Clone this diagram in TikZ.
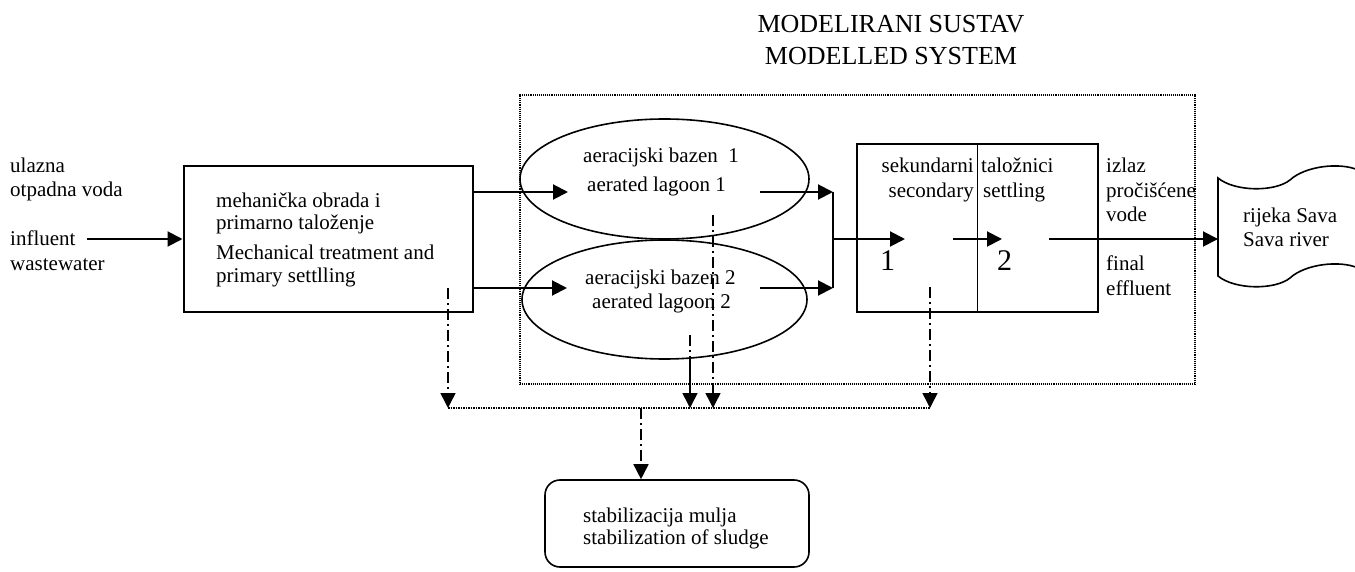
\documentclass[tikz,border=0pt]{standalone}
\usepackage{fontspec}
\setmainfont{Liberation Serif}
\usetikzlibrary{shapes.geometric,arrows.meta}
\begin{document}
\begin{tikzpicture}[x=1pt,y=-1pt,
  txt/.style={font=\fontsize{21}{24}\selectfont, inner sep=0pt, anchor=base west},
  txte/.style={txt, anchor=base east},
  ttl/.style={font=\fontsize{26}{30}\selectfont, inner sep=0pt, anchor=base},
  num/.style={font=\fontsize{30}{34}\selectfont, inner sep=0pt, anchor=base west},
  box/.style={draw, line width=2pt, inner sep=0pt},
  lagoon/.style={draw, ellipse, line width=1.6pt, inner sep=0pt},
  frame/.style={draw, densely dotted, line width=1.1pt, inner sep=0pt},
  ln/.style={line width=2pt},
  tip/.style={-{Triangle[length=15pt,width=15pt]}},
  arr/.style={ln, tip},
  dd/.style={line width=1.5pt, dash pattern=on 11pt off 4pt on 2pt off 4pt},
  ddarr/.style={dd, tip},
  collect/.style={densely dotted, line width=1.5pt}]
\useasboundingbox (0,0) rectangle (1355,572);
\clip (0,0) rectangle (1355,572);

% title
\node[ttl] (t1) at (891,33) {MODELIRANI SUSTAV};
\node[ttl] (t2) at (891,65) {MODELLED SYSTEM};

% modelled system frame
\node[frame, minimum width=675pt, minimum height=289pt] (frm) at (857.5,239.5) {};

% input labels
\node[txt] (in1) at (10,173) {ulazna};
\node[txt] (in2) at (10,197) {otpadna voda};
\node[txt] (in3) at (10,246) {influent};
\node[txt] (in4) at (10,270) {wastewater};

% mechanical treatment box
\node[box, minimum width=289pt, minimum height=145pt] (mech) at (328,239) {};
\node[txt] (m1) at (216,208) {mehanička obrada i};
\node[txt] (m2) at (216,230) {primarno taloženje};
\node[txt] (m3) at (216,259) {Mechanical treatment and};
\node[txt] (m4) at (216,282) {primary settlling};

% lagoons
\node[lagoon, minimum width=289pt, minimum height=120pt] (ell1) at (664.5,179) {};
\node[lagoon, minimum width=285pt, minimum height=119pt] (ell2) at (664.5,299.5) {};
\node[txt] (e1a) at (583,163) {aeracijski bazen \ 1};
\node[txt] (e1b) at (587,192) {aerated lagoon 1};
\node[txt] (e2a) at (585,284) {aeracijski bazen 2};
\node[txt] (e2b) at (592,308) {aerated lagoon 2};

% secondary settling
\node[box, line width=1.8pt, minimum width=241pt, minimum height=168pt] (sec) at (977.5,228) {};
\draw[line width=1.6pt] (sec.north) -- (sec.south);
\node[txte] (s1) at (974,173) {sekundarni};
\node[txte] (s2) at (974,198) {secondary};
\node[txt] (s3) at (981,173) {taložnici};
\node[txt] (s4) at (983,198) {settling};
\node[num] (n1) at (880,270) {1};
\node[num] (n2) at (997,270) {2};

% effluent labels
\node[txt] (o1) at (1106,173) {izlaz};
\node[txt] (o2) at (1106,198) {pročišćene};
\node[txt] (o3) at (1106,222) {vode};
\node[txt] (o4) at (1106,270) {final};
\node[txt] (o5) at (1106,295) {effluent};

% river
\draw[line width=1.6pt] (1358,170) .. controls (1340,162) and (1305,166) .. (1290,180)
   .. controls (1275,192) and (1235,192) .. (1218,178) -- (1218,276)
   .. controls (1235,290) and (1275,290) .. (1290,278)
   .. controls (1305,264) and (1340,260) .. (1358,268);
\coordinate (rv) at (1218,239);
\node[txt] (r1) at (1243,223) {rijeka Sava};
\node[txt] (r2) at (1243,247) {Sava river};

% sludge stabilization
\node[box, line width=1.6pt, rounded corners=15pt, minimum width=264pt, minimum height=87pt] (stab) at (677,523.5) {};
\node[txt] (st1) at (583,522) {stabilizacija mulja};
\node[txt] (st2) at (583,544) {stabilization of sludge};

% flow coordinates
\coordinate (inS) at (87,239);
\coordinate (a1) at (568,192);
\coordinate (a2) at (567,288);
\coordinate (b1) at (760,192);
\coordinate (b2) at (760,288);
\coordinate (j1) at (833,192);
\coordinate (j2) at (833,288);
\coordinate (j0) at (833,239);
\coordinate (c1) at (905,239);
\coordinate (c2s) at (953,239);
\coordinate (c2) at (1002,239);
\coordinate (c3s) at (1049,239);

% main flow
\draw[arr] (inS) -- (mech.west);
\draw[arr] (mech.east |- a1) -- (a1);
\draw[arr] (mech.east |- a2) -- (a2);
\draw[arr] (b1) -- (j1);
\draw[arr] (b2) -- (j2);
\draw[ln] (j1) -- (j2);
\draw[arr] (j0) -- (c1);
\draw[arr] (c2s) -- (c2);
\draw[arr] (c3s) -- (rv);

% sludge lines
\coordinate (d1s) at (448,288);
\coordinate (d1) at (448,408);
\coordinate (d2s) at (690,335);
\coordinate (d2m) at (690,358);
\coordinate (d2) at (690,408);
\coordinate (d3s) at (713,215);
\coordinate (d3) at (713,408);
\coordinate (d4s) at (930,287);
\coordinate (d4) at (930,408);
\coordinate (dc) at (641,408);
\draw[ddarr] (d1s) -- (d1);
\draw[dd] (d2s) -- (d2m);
\draw[arr, line width=1.6pt] (d2m) -- (d2);
\draw[ddarr] (d3s) -- (d3);
\draw[ddarr] (d4s) -- (d4);
\draw[collect] (d1) -- (d4);
\draw[ddarr] (dc) -- (dc |- stab.north);
\end{tikzpicture}
\end{document}
